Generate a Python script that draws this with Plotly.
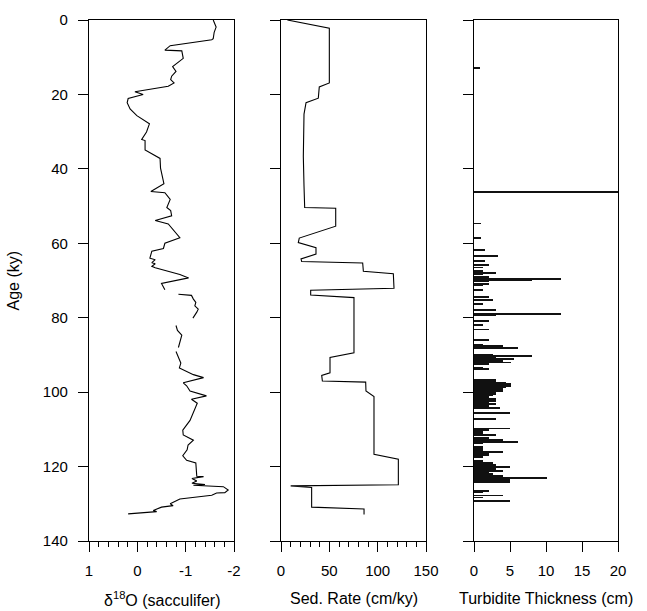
import plotly.graph_objects as go

# ---------------- data ----------------
d18o_age = [0, 1.9, 3.3, 5.0, 5.3, 6.9, 8.1, 8.3, 10.3, 11.6, 12.5, 13.8, 15.1, 16.0, 16.9, 17.8,
            19.3, 20.0, 21.1, 22.2, 23.9, 25.7, 27.9, 30.1, 32.1, 32.4, 34.9, 37.2, 39.8, 44.0,
            46.1, 46.4, 48.2, 50.4, 51.2, 52.6, 53.9, 54.8, 58.5, 60.0, 61.4, 62.1, 64.0, 64.4,
            65.2, 65.5, 66.2, 66.6, 68.4, 69.3, 70.8, 72.5, None,
            73.7, 74.0, 75.0, 75.9, 76.8, 77.7, 78.5, 80.1, None,
            82.1, 83.4, 84.7, 88.0, None,
            89.1, 92.2, 93.5, 95.3, 96.1, 97.5, 98.3, 99.7, 101.0, 101.9, 103.0, 107.6, 110.2,
            111.5, 112.9, 114.2, 115.5, 117.1, 118.3, 119.0, 122.6, 122.7, 123.2, 123.9, 124.5,
            124.8, 125.0, 125.4, 126.3, 127.0, 127.1, 127.7, 128.7, 130.0, 130.5, 130.9, 131.8,
            132.1, 132.7]
d18o_val = [-1.57, -1.63, -1.59, -1.57, -1.54, -0.68, -0.57, -0.92, -0.95, -0.83, -0.73, -0.80,
            -0.71, -0.69, -0.76, -0.64, 0.05, -0.12, 0.19, 0.21, 0.15, 0.01, -0.25, -0.19, -0.09,
            -0.16, -0.16, -0.47, -0.48, -0.55, -0.28, -0.57, -0.68, -0.61, -0.69, -0.71, -0.37,
            -0.64, -0.88, -0.57, -0.54, -0.30, -0.26, -0.37, -0.30, -0.37, -0.30, -0.37, -0.88,
            -1.06, -0.50, -0.57, None,
            -0.85, -1.12, -1.16, -1.21, -1.19, -1.26, -1.23, -1.15, None,
            -0.80, -0.83, -0.92, -0.85, None,
            -0.80, -0.90, -0.87, -1.16, -1.37, -0.95, -1.02, -1.09, -1.43, -1.12, -1.24, -1.09,
            -0.94, -0.95, -1.16, -1.05, -1.03, -0.94, -1.02, -1.21, -1.23, -1.37, -1.13, -1.23,
            -1.13, -1.40, -1.16, -1.78, -1.88, -1.81, -1.64, -1.54, -0.88, -0.68, -0.74, -0.50,
            -0.33, -0.40, 0.19]

sed_age = [0, 2.2, 16.9, 18.0, 21.0, 22.2, 25.3, 36.7, 44.6, 50.4, 50.6, 55.4, 58.6, 59.8,
           61.2, 62.9, 64.2, 64.9, 65.3, 67.5, 68.2, 72.1, 72.6, 73.9, 74.6, 89.4, 90.7, 94.8,
           95.5, 97.0, 97.3, 99.7, 101.2, 116.7, 118.0, 124.9, 125.2, 125.6, 130.9, 131.4, 132.9]
sed_val = [6.6, 50, 50, 39.6, 38.6, 25.9, 23.8, 23.1, 23.8, 24.5, 56.6, 56.6, 18.9, 17.9,
           36.2, 36.2, 20.7, 21.4, 84.5, 85.2, 116.2, 116.9, 30.7, 30.7, 75.5, 75.5, 50.7, 50.7,
           42.1, 42.8, 87.6, 87.9, 96.2, 96.2, 121.4, 121.4, 10.0, 31.7, 31.7, 85.9, 85.9]

turb_age = [12.9, 46.2, 54.7, 58.6, 61.8, 63.4, 64.7,
            65.9, 66.5, 67.4, 68.0, 68.4, 69.1, 69.6, 69.9, 70.3, 70.9, 71.3, 72.6, 74.4, 75.3,
            76.3, 77.9, 79.0, 79.4, 80.9, 81.9, 83.2, 86.0, 87.3, 87.6, 88.2, 90.0, 90.2, 90.7,
            91.1, 91.6, 92.0, 92.4, 93.5, 93.8, 96.8, 97.2, 97.6, 97.9, 98.3, 98.6, 98.8, 99.2,
            99.5, 99.7, 100.1, 100.5, 100.8, 101.0, 101.4, 101.9, 102.3, 102.7, 103.2, 103.8,
            104.3, 105.7, 107.2, 109.8, 110.2, 110.7, 111.1, 111.6, 112.4, 112.9, 113.3, 113.8,
            114.6, 115.1, 115.5, 116.0, 116.4, 116.8, 117.5, 118.6, 119.0, 119.5, 119.9, 120.2,
            120.6, 121.1, 121.5, 121.9, 122.4, 122.8, 123.0, 123.4, 123.9, 124.3, 126.5, 127.0,
            127.8, 128.3, 129.2, 129.4]
turb_val = [0.8, 20, 1.0, 1.0, 1.5, 3.3, 1.5,
            2.1, 1.2, 1.2, 3.1, 1.2, 2.1, 12.1, 8.1, 2.1, 2.1, 1.2, 1.2, 2.1, 2.6,
            1.2, 3.1, 12.1, 3.1, 2.1, 1.2, 2.1, 2.1, 1.2, 4.0, 6.1, 2.6, 8.1, 3.1,
            5.6, 4.0, 5.1, 2.1, 1.2, 2.1, 3.1, 3.1, 4.5, 5.1, 5.1, 4.5, 4.0, 4.0,
            4.0, 4.0, 3.1, 3.1, 2.6, 2.1, 2.1, 3.1, 3.1, 2.1, 3.1, 2.1,
            3.6, 5.0, 3.1, 5.0, 2.1, 1.2, 1.2, 3.1, 2.1, 4.0, 6.1, 1.2,
            1.2, 1.2, 1.2, 4.0, 2.1, 2.1, 1.2, 1.2, 2.6, 3.1, 2.6, 5.0,
            3.1, 4.0, 2.1, 2.6, 4.0, 4.0, 10.1, 5.0, 5.0, 5.0, 2.1, 1.2,
            4.0, 1.2, 5.0, 2.1]

age_ticks = [0, 20, 40, 60, 80, 100, 120, 140]
d18o_ticks = [1, 0, -1, -2]
d18o_ticktext = ['1', '0', '-1', '-2']
d18o_minor = [0.8, 0.6, 0.4, 0.2, -0.2, -0.4, -0.6, -0.8, -1.2, -1.4, -1.6, -1.8]
sed_ticks = [0, 50, 100, 150]
sed_minor = [10, 20, 30, 40, 60, 70, 80, 90, 110, 120, 130, 140]
turb_ticks = [0, 5, 10, 15, 20]

# ---------------- figure ----------------
FONT = "Arial, Liberation Sans, Helvetica, sans-serif"
fig = go.Figure()

fig.add_trace(go.Scatter(x=d18o_val, y=d18o_age, mode='lines',
                         line=dict(color='black', width=1.1), xaxis='x', yaxis='y',
                         connectgaps=False, showlegend=False))
fig.add_trace(go.Scatter(x=sed_val, y=sed_age, mode='lines',
                         line=dict(color='black', width=1.1), xaxis='x2', yaxis='y2',
                         showlegend=False))
fig.add_trace(go.Bar(x=turb_val, y=turb_age, orientation='h', width=0.2,
                     marker=dict(color='#111111', line=dict(width=0)),
                     xaxis='x3', yaxis='y3', showlegend=False))

W = 647
L, R, T, B = 89, 29, 11, 70
pw = W - L - R
def dom(a, b):
    return [(a - L) / pw, (b - L) / pw]

common_x = dict(showline=True, linecolor='black', linewidth=1.3, mirror=True,
                ticks='outside', ticklen=10, tickwidth=1.2, tickcolor='black',
                showgrid=False, zeroline=False, ticklabelstandoff=6,
                tickfont=dict(family=FONT, size=15, color='black'))
common_y = dict(showline=True, linecolor='black', linewidth=1.3, mirror=True,
                ticks='outside', ticklen=10, tickwidth=1.2, tickcolor='black',
                showgrid=False, zeroline=False, range=[140, 0],
                tickvals=age_ticks,
                tickfont=dict(family=FONT, size=15, color='black'))

fig.update_layout(
    width=647, height=611,
    margin=dict(l=L, r=R, t=T, b=B, pad=0),
    paper_bgcolor='white', plot_bgcolor='white',
    bargap=0,
    xaxis=dict(common_x, domain=dom(89, 234), range=[1, -2], anchor='y',
               tickvals=d18o_ticks, ticktext=d18o_ticktext,
               minor=dict(tickvals=d18o_minor, ticks='outside', ticklen=5,
                          tickwidth=1.2, tickcolor='black', showgrid=False)),
    xaxis2=dict(common_x, domain=dom(281, 426), range=[0, 150], anchor='y2',
                tickvals=sed_ticks,
                minor=dict(tickvals=sed_minor, ticks='outside', ticklen=5,
                           tickwidth=1.2, tickcolor='black', showgrid=False)),
    xaxis3=dict(common_x, domain=dom(474, 618), range=[0, 20], anchor='y3',
                tickvals=turb_ticks),
    yaxis=dict(common_y, anchor='x', ticklabelstandoff=7),
    yaxis2=dict(common_y, anchor='x2', matches='y', showticklabels=False),
    yaxis3=dict(common_y, anchor='x3', matches='y', showticklabels=False),
)

titles = [('δ<sup>18</sup>O (sacculifer)', dom(89, 234)),
          ('Sed. Rate (cm/ky)', dom(281, 426)),
          ('Turbidite Thickness (cm)', dom(474, 618))]
for txt, d in titles:
    fig.add_annotation(text=txt, x=(d[0] + d[1]) / 2, xref='paper', y=-59 / 530, yref='paper',
                       yanchor='middle', xanchor='center', showarrow=False,
                       font=dict(family=FONT, size=16, color='black'))
fig.add_annotation(text='Age (ky)', textangle=-90, x=(13 - L) / pw, xref='paper',
                   xanchor='center', yanchor='middle',
                   y=0.5, yref='paper', showarrow=False,
                   font=dict(family=FONT, size=16, color='black'))

fig.write_html("out.html")
